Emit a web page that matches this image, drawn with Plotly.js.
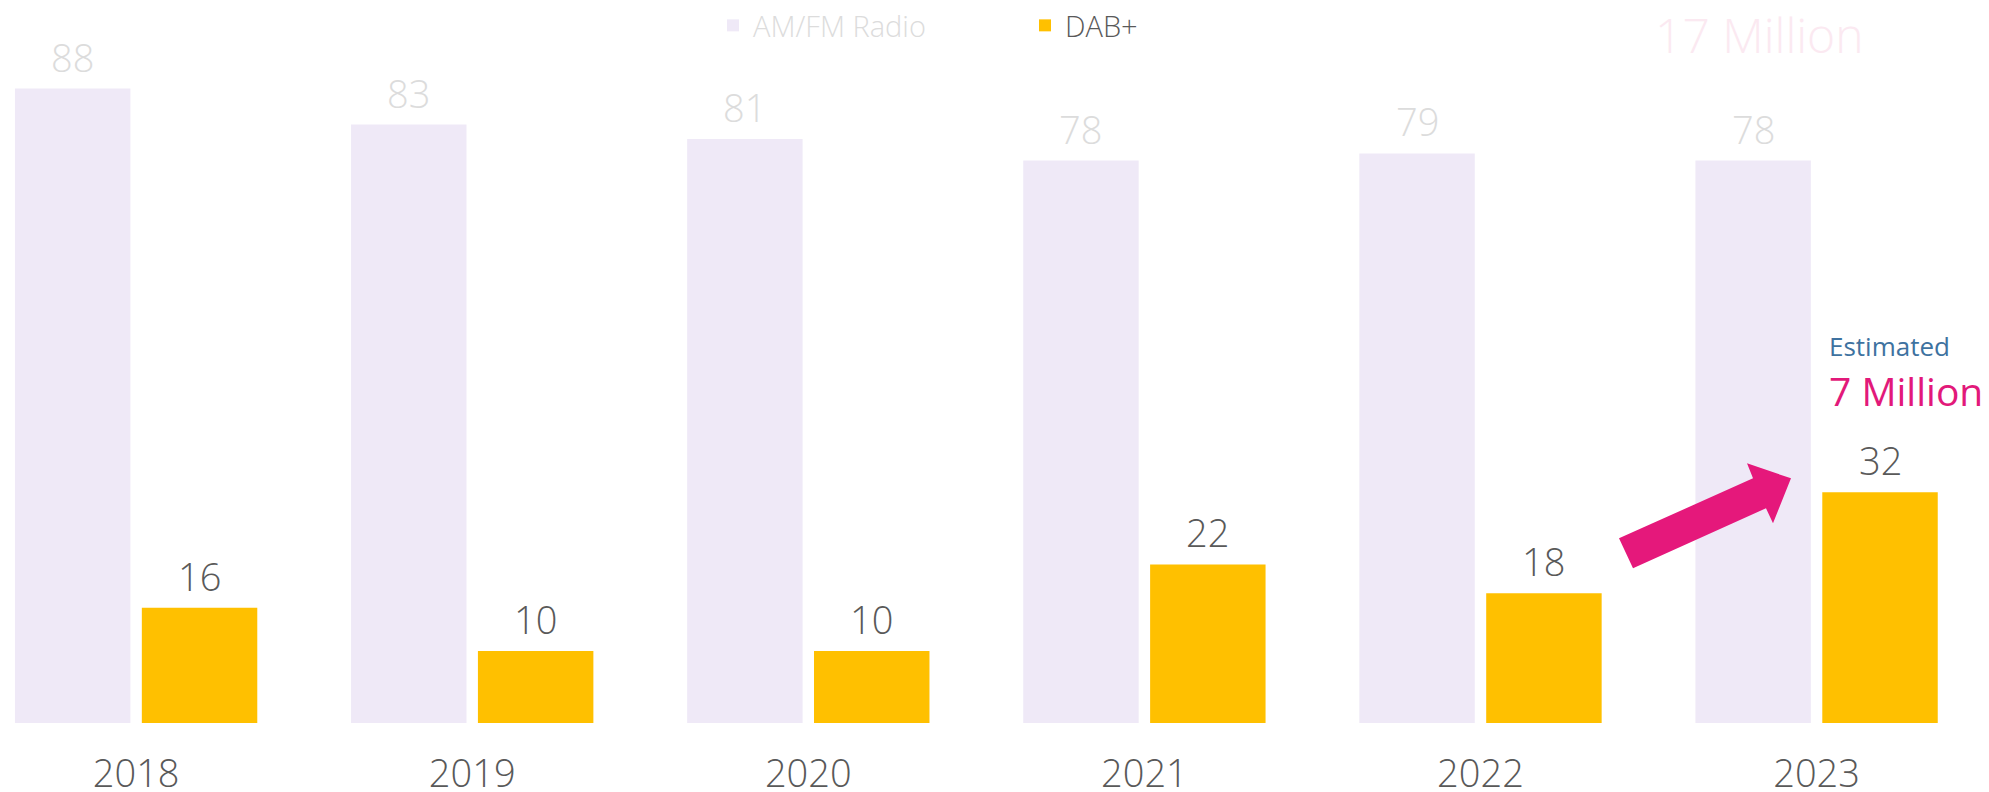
<!DOCTYPE html>
<html>
<head>
<meta charset="utf-8">
<script src="https://cdn.plot.ly/plotly-3.0.1.min.js"></script>
<style>
  html, body { margin: 0; padding: 0; background: #ffffff; }
  #chart { width: 1989px; height: 792px; }
</style>
</head>
<body>
<div id="chart"></div>
<script>
// ---- data ----
const years = ['2018', '2019', '2020', '2021', '2022', '2023'];
const amfmValues = [88, 83, 81, 78, 79, 78];
const dabValues = [16, 10, 10, 22, 18, 32];
const seriesNames = ['AM/FM Radio', 'DAB+'];
const topNote = '17 Million';
const estLabel = 'Estimated';
const estValue = '7 Million';

// ---- styles ----
const FONT = '"Open Sans", "Noto Sans", sans-serif';
const amfmColor = '#efe9f7';
const dabColor = '#ffc000';
const amfmTextColor = '#dcdcdc';
const dabTextColor = '#595959';
const BARGAP = 0.245;
const BARGROUPGAP = 0.09;

const traces = [
  {
    type: 'bar',
    name: '<span style="color:' + amfmTextColor + '">' + seriesNames[0] + '</span>',
    x: years,
    y: amfmValues,
    marker: { color: amfmColor },
    hoverinfo: 'skip'
  },
  {
    type: 'bar',
    name: '<span style="color:' + dabTextColor + '">' + seriesNames[1] + '</span>',
    x: years,
    y: dabValues,
    marker: { color: dabColor },
    hoverinfo: 'skip'
  }
];

// value labels above bars (category index +/- group offset)
const groupOffset = (1 - BARGAP) / 4;
const annotations = [];
years.forEach(function (yr, i) {
  annotations.push({
    xref: 'x', yref: 'y', x: i - groupOffset, y: amfmValues[i],
    text: String(amfmValues[i]), showarrow: false,
    xanchor: 'center', yanchor: 'bottom', yshift: 4,
    font: { family: FONT, size: 38, color: amfmTextColor, weight: 300 }
  });
  annotations.push({
    xref: 'x', yref: 'y', x: i + groupOffset, y: dabValues[i],
    text: String(dabValues[i]), showarrow: false,
    xanchor: 'center', yanchor: 'bottom', yshift: 4,
    font: { family: FONT, size: 38, color: dabTextColor, weight: 300 }
  });
});

annotations.push({
  xref: 'paper', yref: 'paper', x: 0.8844, y: 0.9543,
  xanchor: 'center', yanchor: 'middle', showarrow: false,
  text: topNote,
  font: { family: FONT, size: 48, color: '#fbe9f1', weight: 300 }
});
annotations.push({
  xref: 'paper', yref: 'paper', x: 0.9185, y: 0.523,
  xanchor: 'left', yanchor: 'middle', showarrow: false,
  text: estLabel,
  font: { family: FONT, size: 26, color: '#3e72a0' }
});
annotations.push({
  xref: 'paper', yref: 'paper', x: 0.9185, y: 0.4606,
  xanchor: 'left', yanchor: 'middle', showarrow: false,
  text: estValue,
  font: { family: FONT, size: 39, color: '#e2197a' }
});

// arrow shape (paper coordinates)
function P(px, py) { return (px / 1989).toFixed(5) + ',' + ((723 - py) / 722).toFixed(5); }
const arrowPath = 'M' + P(1619, 538) + ' L' + P(1753, 478) + ' L' + P(1747, 463) +
  ' L' + P(1791, 478) + ' L' + P(1773, 523) + ' L' + P(1766, 508) + ' L' + P(1633, 568) + ' Z';

const layout = {
  width: 1989,
  height: 792,
  margin: { l: 0, r: 0, t: 1, b: 69, pad: 0 },
  paper_bgcolor: '#ffffff',
  plot_bgcolor: '#ffffff',
  barmode: 'group',
  bargap: BARGAP,
  bargroupgap: BARGROUPGAP,
  font: { family: FONT, color: '#595959' },
  showlegend: true,
  legend: {
    orientation: 'h',
    x: 713 / 1989, xanchor: 'left',
    y: (723 - 25) / 722, yanchor: 'middle',
    font: { family: FONT, size: 29, color: '#595959', weight: 300 },
    bgcolor: 'rgba(0,0,0,0)',
    entrywidth: 267,
    traceorder: 'normal'
  },
  xaxis: {
    type: 'category',
    range: [-0.405, 5.513],
    showgrid: false, zeroline: false, showline: false,
    ticks: '',
    ticklabelstandoff: 25,
    tickfont: { family: FONT, size: 38, color: '#595959', weight: 300 },
    fixedrange: true
  },
  yaxis: {
    range: [0, 100],
    visible: false,
    showgrid: false, zeroline: false,
    fixedrange: true
  },
  annotations: annotations,
  shapes: [{
    type: 'path', xref: 'paper', yref: 'paper',
    path: arrowPath,
    fillcolor: '#e5187b',
    line: { width: 0 },
    layer: 'above'
  }],
  hovermode: false
};

Plotly.newPlot('chart', traces, layout, { displayModeBar: false, staticPlot: true });
</script>
</body>
</html>
